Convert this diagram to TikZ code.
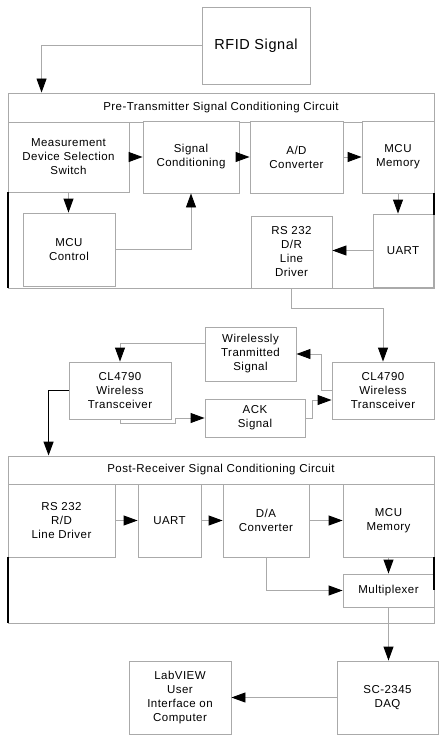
\documentclass[tikz,border=0pt]{standalone}
\usepackage{fontspec}
\setmainfont{Liberation Sans}[LetterSpace=4]
\usetikzlibrary{arrows.meta,calc}
\definecolor{edge}{RGB}{170,170,170}
\tikzset{
  box/.style={draw=edge, line width=0.9pt, fill=white, align=center, inner sep=1pt,
              font=\fontsize{11.5}{14}\selectfont},
  arr/.style={draw=edge, line width=0.9pt, -{Triangle[length=14pt,width=10pt,color=black]}},
  thickarr/.style={draw=black, line width=1.4pt, -{Triangle[length=14pt,width=10pt,color=black]}},
  bar/.style={draw=black, line width=1.4pt},
}
\begin{document}
\begin{tikzpicture}[x=1pt,y=-1pt]
\useasboundingbox (0,0) rectangle (444,741);
% RFID
\node[box, minimum width=108pt, minimum height=77pt, font=\fontsize{14.5}{17}\selectfont] (rfid) at (256,45.5) {RFID Signal};
% Pre-transmitter circuit
\node[box, minimum width=426pt, minimum height=195pt] (pre) at (221,190.5) {};
\node[box, minimum width=426pt, minimum height=29pt] (pretitle) at (221,107.5) {Pre-Transmitter Signal Conditioning Circuit};
\node[box, minimum width=121pt, minimum height=70pt] (meas) at (68.5,157) {Measurement\\Device Selection\\Switch};
\node[box, minimum width=96pt, minimum height=72pt] (sc) at (191,157) {Signal\\Conditioning};
\node[box, minimum width=93pt, minimum height=72pt] (ad) at (296.5,157) {A/D\\Converter};
\node[box, minimum width=72pt, minimum height=72pt] (memA) at (398,157) {MCU\\Memory};
\node[box, minimum width=92pt, minimum height=73pt] (mcuc) at (69,249.5) {MCU\\Control};
\node[box, minimum width=81pt, minimum height=72pt] (rsA) at (291.5,252) {RS 232\\D/R\\Line\\Driver};
\node[box, minimum width=60pt, minimum height=73pt] (uartA) at (403,250.5) {UART};
\draw[bar] (8,192) -- (8,288);
\draw[bar] (434,193) -- (434,215);
% Wireless
\node[box, minimum width=102pt, minimum height=57pt] (clR) at (383,390.5) {CL4790\\Wireless\\Transceiver};
\node[box, minimum width=91pt, minimum height=54pt] (wts) at (250.5,354) {Wirelessly\\Tranmitted\\Signal};
\node[box, minimum width=102pt, minimum height=57pt] (clL) at (120,390.5) {CL4790\\Wireless\\Transceiver};
\node[box, minimum width=100pt, minimum height=38pt] (ack) at (255,418) {ACK\\Signal};
% Post-receiver circuit
\node[box, minimum width=426pt, minimum height=167pt] (post) at (221,539.5) {};
\node[box, minimum width=426pt, minimum height=28pt] (posttitle) at (221,470) {Post-Receiver Signal Conditioning Circuit};
\node[box, minimum width=107pt, minimum height=73pt] (rsB) at (61.5,520.5) {RS 232\\R/D\\Line Driver};
\node[box, minimum width=63pt, minimum height=73pt] (uartB) at (169.5,520.5) {UART};
\node[box, minimum width=86pt, minimum height=73pt] (da) at (266,520.5) {D/A\\Converter};
\node[box, minimum width=91pt, minimum height=73pt] (memB) at (388.5,520.5) {MCU\\Memory};
\node[box, minimum width=91pt, minimum height=33pt] (mux) at (388.5,590.5) {Multiplexer};
\draw[bar] (8,557) -- (8,623);
\draw[bar] (434,557) -- (434,590);
% Output
\node[box, minimum width=101pt, minimum height=73pt] (daq) at (387.5,697.5) {SC-2345\\DAQ};
\node[box, minimum width=102pt, minimum height=73pt] (lab) at (180,697.5) {LabVIEW\\User\\Interface on\\Computer};
% connectors
\draw[arr] (rfid.west) -| ([xshift=34pt]pretitle.north west);
\draw[arr] (meas.east) -- (sc.west);
\draw[arr] (sc.east) -- (ad.west);
\draw[arr] (ad.east) -- (memA.west);
\draw[arr] (meas.south) -- (meas.south |- mcuc.north);
\draw[arr] (mcuc.east) -| (sc.south);
\draw[arr] (memA.south) -- (memA.south |- uartA.north);
\draw[arr] (uartA.west) -- (uartA.west -| rsA.east);
\draw[arr] (rsA.south) -- ++(0,20) -| (clR.north);
\draw[arr] (clR.west) -- ++(-10,0) |- (wts.east);
\draw[arr] ([yshift=11pt]wts.west) -| (clL.north);
\draw[arr] (clL.south) -- ++(0,4) -- ++(55,0) |- (ack.west);
\draw[arr] (ack.east) -- ++(7,0) |- ([yshift=-9.5pt]clR.west);
\draw[thickarr] (clL.west) -| ([xshift=41pt]posttitle.north west);
\draw[arr] (rsB.east) -- (uartB.west);
\draw[arr] (uartB.east) -- (da.west);
\draw[arr] (da.east) -- (memB.west);
\draw[arr] (memB.south) -- (mux.north);
\draw[arr] (da.south) |- (mux.west);
\draw[arr] (mux.south) -- (mux.south |- daq.north);
\draw[arr] (daq.west) -- (lab.east);
\end{tikzpicture}
\end{document}
